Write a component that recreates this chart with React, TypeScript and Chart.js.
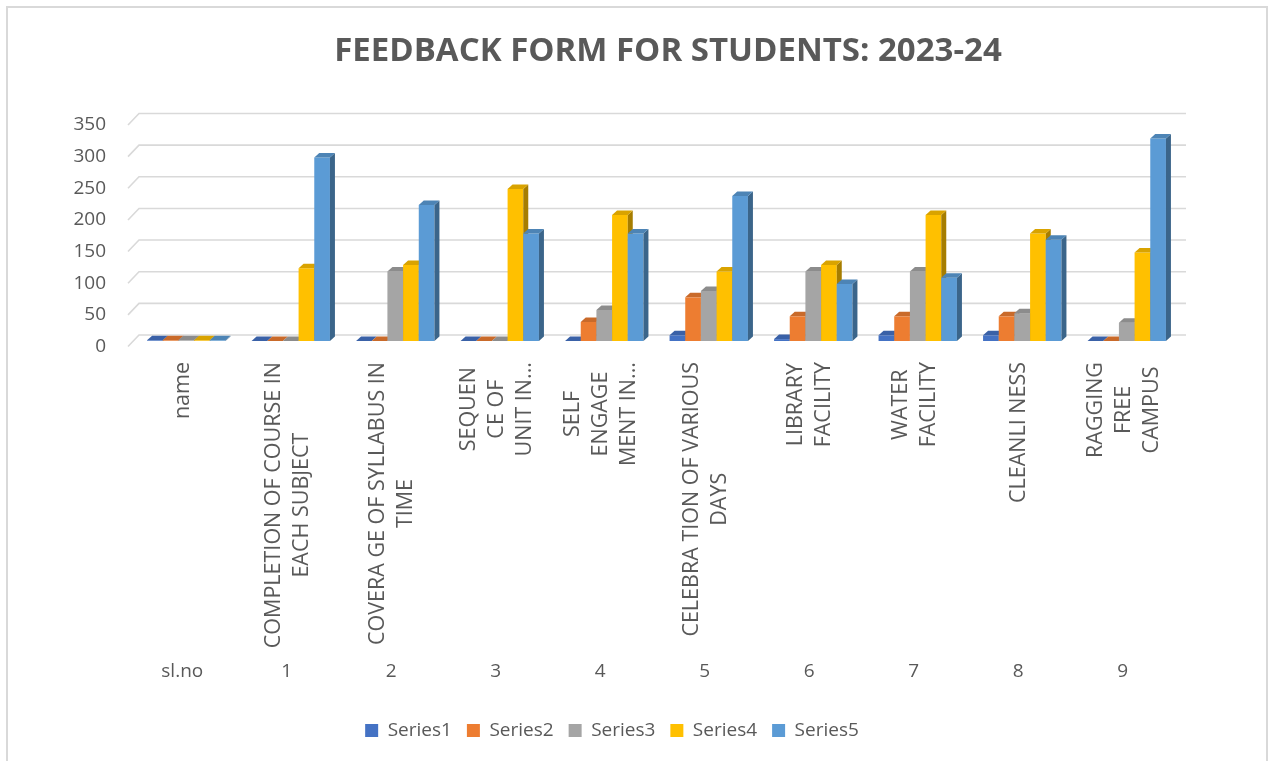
import React, { useEffect, useRef } from 'react';
import { Chart, registerables } from 'chart.js';

Chart.register(...registerables);

// ---------- data ----------
const TITLE = 'FEEDBACK FORM FOR STUDENTS: 2023-24';
const slNo = ['sl.no', '1', '2', '3', '4', '5', '6', '7', '8', '9'];
const itemNames: string[][] = [
  ['name'],
  ['COMPLETION OF COURSE IN', 'EACH SUBJECT'],
  ['COVERA GE OF SYLLABUS IN', 'TIME'],
  ['SEQUEN', 'CE OF', 'UNIT IN...'],
  ['SELF', 'ENGAGE', 'MENT IN...'],
  ['CELEBRA TION OF VARIOUS', 'DAYS'],
  ['LIBRARY', 'FACILITY'],
  ['WATER', 'FACILITY'],
  ['CLEANLI NESS'],
  ['RAGGING', 'FREE', 'CAMPUS'],
];
const seriesNames = ['Series1', 'Series2', 'Series3', 'Series4', 'Series5'];
const series1 = [1, 0, 0, 0, 0, 9, 3, 9, 9, 0];
const series2 = [1, 0, 0, 0, 30, 69, 39, 39, 39, 0];
const series3 = [1, 0, 110, 0, 49, 79, 110, 110, 44, 29];
const series4 = [1, 115, 120, 240, 199, 110, 120, 199, 170, 140];
const series5 = [1, 290, 215, 170, 170, 229, 90, 100, 160, 320];
const yTicksMax = 350;
const yTicksStep = 50;

const seriesColors = ['#4472C4', '#ED7D31', '#A5A5A5', '#FFC000', '#5B9BD5'];

// ---------- styling constants ----------
const TEXT = '#595959';
const GRID = '#d9d9d9';
const DEPTH_X = 5;
const DEPTH_Y = -4.5;
const SHIFT_X = 4;
const SHIFT_Y = -5.5;
const BACK_X = 11;
const BACK_Y = -11.5;
const NAME_SIZE = 21.5;
const NAME_TOP = 362;
const NAME_LINE = 28;
const TITLE_SIZE = 33;

function shade(hex: string, f: number): string {
  const n = parseInt(hex.slice(1), 16);
  const r = Math.round(((n >> 16) & 255) * f);
  const g = Math.round(((n >> 8) & 255) * f);
  const b = Math.round((n & 255) * f);
  return `rgb(${r},${g},${b})`;
}

function drawFaces(ctx: CanvasRenderingContext2D, meta: any, color: string) {
  const topC = shade(color, 0.85);
  const sideC = shade(color, 0.65);
  meta.data.forEach((el: any) => {
    const { x, y, base, width } = el.getProps(['x', 'y', 'base', 'width'], true);
    const l = x - width / 2;
    const r = x + width / 2;
    ctx.fillStyle = sideC;
    ctx.beginPath();
    ctx.moveTo(r, y);
    ctx.lineTo(r + DEPTH_X, y + DEPTH_Y);
    ctx.lineTo(r + DEPTH_X, base + DEPTH_Y);
    ctx.lineTo(r, base);
    ctx.closePath();
    ctx.fill();
    ctx.fillStyle = topC;
    ctx.beginPath();
    ctx.moveTo(l, y);
    ctx.lineTo(l + DEPTH_X, y + DEPTH_Y);
    ctx.lineTo(r + DEPTH_X, y + DEPTH_Y);
    ctx.lineTo(r, y);
    ctx.closePath();
    ctx.fill();
  });
}

const threeDPlugin = {
  id: 'threeD',
  beforeDatasetsDraw(chart: any) {
    const { ctx, chartArea, scales } = chart;
    const y = scales.y;
    ctx.save();
    ctx.strokeStyle = GRID;
    ctx.lineWidth = 1.6;
    for (const t of y.ticks) {
      const py = y.getPixelForValue(t.value);
      ctx.beginPath();
      ctx.moveTo(chartArea.left - 2, py);
      ctx.lineTo(chartArea.left - 2 + BACK_X, py + BACK_Y);
      ctx.lineTo(chartArea.right + BACK_X, py + BACK_Y);
      ctx.stroke();
    }
    ctx.restore();
    // draw Series1 first so that each later column covers the side face of the previous one
    for (let i = 0; i < chart.data.datasets.length; i++) {
      const meta = chart.getDatasetMeta(i);
      ctx.save();
      ctx.translate(SHIFT_X, SHIFT_Y);
      meta.controller.draw();
      drawFaces(ctx, meta, seriesColors[i]);
      ctx.restore();
    }
    return false;
  },
};

const textPlugin = {
  id: 'texts',
  afterDraw(chart: any) {
    const { ctx, scales } = chart;
    const x = scales.x;
    ctx.save();
    ctx.fillStyle = TEXT;
    ctx.textAlign = 'center';
    ctx.textBaseline = 'middle';
    ctx.font = `${NAME_SIZE}px "Open Sans"`;
    itemNames.forEach((lines, i) => {
      const cx = x.getPixelForValue(i) + 1;
      const w = Math.max(...lines.map((ln) => ctx.measureText(ln).width));
      ctx.save();
      ctx.translate(cx, NAME_TOP);
      ctx.rotate(-Math.PI / 2);
      lines.forEach((ln, j) => {
        ctx.fillText(ln, -w / 2, (j - (lines.length - 1) / 2) * NAME_LINE);
      });
      ctx.restore();
    });
    ctx.font = `bold ${TITLE_SIZE}px "Open Sans"`;
    ctx.fillText(TITLE, 668, 52);
    ctx.restore();
  },
};

export default function App() {
  const ref = useRef<HTMLCanvasElement | null>(null);
  useEffect(() => {
    if (!ref.current) return;
    Chart.defaults.font.family = '"Open Sans"';
    const all = [series1, series2, series3, series4, series5];
    const chart = new Chart(ref.current, {
      type: 'bar',
      data: {
        labels: slNo,
        datasets: all.map((d, i) => ({
          label: seriesNames[i],
          data: d,
          backgroundColor: seriesColors[i],
          borderWidth: 0,
          categoryPercentage: 0.75,
          barPercentage: 1,
        })),
      },
      options: {
        responsive: false,
        animation: false,
        layout: { padding: { left: 49, right: 94, top: 125, bottom: 11 } },
        plugins: {
          title: { display: false },
          tooltip: { enabled: false },
          legend: {
            position: 'bottom',
            labels: {
              boxWidth: 13,
              boxHeight: 13,
              padding: 15,
              color: TEXT,
              font: { size: 19 },
            },
          },
        },
        scales: {
          x: {
            grid: { display: false, drawTicks: false },
            border: { display: false },
            ticks: { color: TEXT, font: { size: 19 }, padding: 314, maxRotation: 0, autoSkip: false },
            afterFit: (s: any) => {
              s.height = 359.5;
              s.paddingLeft = 0;
              s.paddingRight = 0;
            },
          },
          y: {
            min: 0,
            max: yTicksMax,
            grid: { display: false, drawTicks: false },
            border: { display: false },
            ticks: { stepSize: yTicksStep, color: TEXT, font: { size: 19 }, padding: 24 },
            afterFit: (s: any) => {
              s.width = 81;
            },
          },
        },
      },
      plugins: [threeDPlugin, textPlugin],
    });
    return () => chart.destroy();
  }, []);

  return (
    <div style={{ position: 'fixed', left: 0, top: 0, width: 1269, height: 761, background: '#fff' }}>
      <div
        style={{
          position: 'absolute',
          left: 6,
          top: 6,
          width: 1262,
          height: 800,
          border: '2px solid #d9d9d9',
          boxSizing: 'border-box',
        }}
      />
      <canvas
        ref={ref}
        width={1269}
        height={761}
        style={{ position: 'absolute', left: 0, top: 0, width: 1269, height: 761 }}
      />
    </div>
  );
}
